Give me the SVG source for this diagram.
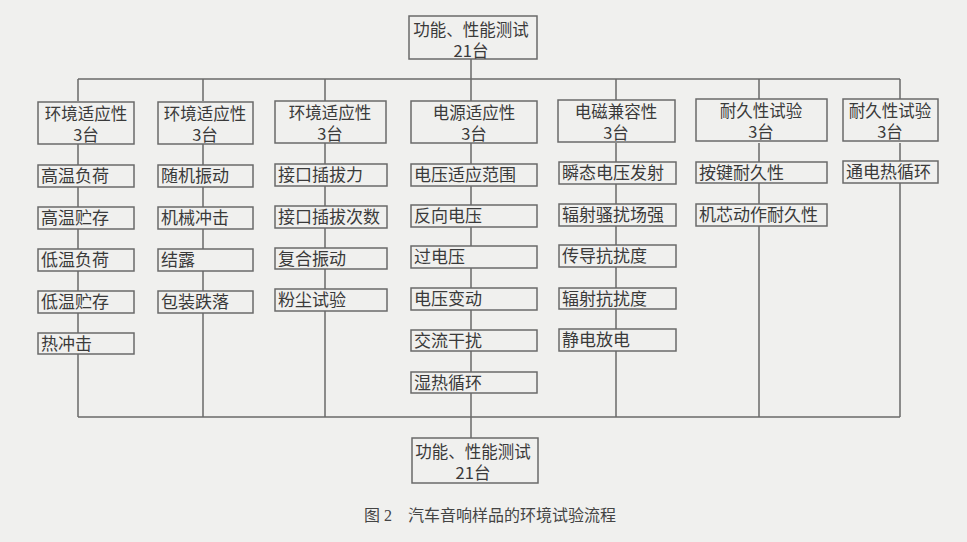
<svg xmlns="http://www.w3.org/2000/svg" width="967" height="542" viewBox="0 0 967 542">
<style>
.bg{fill:#f0f0ee}
.box{fill:#f0f0ee;stroke:#6a6a6a;stroke-width:1.5}
.ln{stroke:#6a6a6a;stroke-width:1.5;fill:none}
text{font-family:"Noto Sans CJK SC","Noto Sans",sans-serif;fill:#3a3a3a;font-size:17px}
.c{text-anchor:middle}
.h{font-size:16.5px}
.t{font-size:16.5px}
.cap{font-family:"Liberation Serif","Noto Sans CJK SC",serif;font-size:16px;fill:#444;white-space:pre}
</style>
<rect class="bg" x="0" y="0" width="967" height="542"/>
<g id="connectors">
<path class="ln" d="M471 59V79M78 79H900M78 79V101M203 79V101M325 79V101M471 79V101M616 79V101M759 79V101M900 79V101"/>
<path class="ln" d="M78 143V417M203 143V417M325 143V417M471 143V438M616 143V417M759 143V417M900 143V417M78 417H900"/>
</g>
<g id="top"><rect class="box" x="409" y="16" width="128" height="43"/><text class="c t" x="471" y="36">功能、性能测试<tspan x="471" dy="20.5">21台</tspan></text></g>
<g id="h1"><rect class="box" x="38" y="102" width="96" height="42"/><text class="c h" x="86" y="120">环境适应性<tspan x="86" dy="21">3台</tspan></text></g>
<g id="h2"><rect class="box" x="158" y="102" width="95" height="42"/><text class="c h" x="205" y="120">环境适应性<tspan x="205" dy="21">3台</tspan></text></g>
<g id="h3"><rect class="box" x="275" y="101" width="111" height="42"/><text class="c h" x="330" y="119">环境适应性<tspan x="330" dy="21">3台</tspan></text></g>
<g id="h4"><rect class="box" x="411" y="101" width="126" height="42"/><text class="c h" x="474" y="119">电源适应性<tspan x="474" dy="21">3台</tspan></text></g>
<g id="h5"><rect class="box" x="558" y="100" width="117" height="42"/><text class="c h" x="616" y="118">电磁兼容性<tspan x="616" dy="21">3台</tspan></text></g>
<g id="h6"><rect class="box" x="696" y="99" width="131" height="42"/><text class="c h" x="761" y="117">耐久性试验<tspan x="761" dy="21">3台</tspan></text></g>
<g id="h7"><rect class="box" x="843" y="99" width="95" height="42"/><text class="c h" x="890" y="117">耐久性试验<tspan x="890" dy="21">3台</tspan></text></g>
<g id="c1">
<rect class="box" x="38" y="165" width="96" height="22"/><text x="41" y="182">高温负荷</text>
<rect class="box" x="38" y="207" width="96" height="22"/><text x="41" y="224">高温贮存</text>
<rect class="box" x="38" y="249" width="96" height="22"/><text x="41" y="266">低温负荷</text>
<rect class="box" x="38" y="291" width="96" height="22"/><text x="41" y="308">低温贮存</text>
<rect class="box" x="38" y="333" width="96" height="21"/><text x="41" y="350">热冲击</text>
</g>
<g id="c2">
<rect class="box" x="158" y="165" width="95" height="22"/><text x="161" y="182">随机振动</text>
<rect class="box" x="158" y="207" width="95" height="22"/><text x="161" y="224">机械冲击</text>
<rect class="box" x="158" y="249" width="95" height="22"/><text x="161" y="266">结露</text>
<rect class="box" x="158" y="291" width="95" height="22"/><text x="161" y="308">包装跌落</text>
</g>
<g id="c3">
<rect class="box" x="275" y="164" width="112" height="22"/><text x="278" y="181">接口插拔力</text>
<rect class="box" x="275" y="206" width="112" height="22"/><text x="278" y="223">接口插拔次数</text>
<rect class="box" x="275" y="248" width="112" height="21"/><text x="278" y="265">复合振动</text>
<rect class="box" x="275" y="289" width="112" height="22"/><text x="278" y="306">粉尘试验</text>
</g>
<g id="c4">
<rect class="box" x="411" y="164" width="126" height="22"/><text x="414" y="181">电压适应范围</text>
<rect class="box" x="411" y="205" width="126" height="22"/><text x="414" y="222">反向电压</text>
<rect class="box" x="411" y="246" width="126" height="22"/><text x="414" y="263">过电压</text>
<rect class="box" x="411" y="288" width="126" height="22"/><text x="414" y="305">电压变动</text>
<rect class="box" x="411" y="330" width="126" height="21"/><text x="414" y="347">交流干扰</text>
<rect class="box" x="411" y="372" width="126" height="21"/><text x="414" y="389">湿热循环</text>
</g>
<g id="c5">
<rect class="box" x="559" y="162" width="117" height="22"/><text x="562" y="179">瞬态电压发射</text>
<rect class="box" x="559" y="204" width="117" height="22"/><text x="562" y="221">辐射骚扰场强</text>
<rect class="box" x="559" y="245" width="117" height="22"/><text x="562" y="262">传导抗扰度</text>
<rect class="box" x="559" y="288" width="117" height="21"/><text x="562" y="305">辐射抗扰度</text>
<rect class="box" x="559" y="329" width="117" height="22"/><text x="562" y="346">静电放电</text>
</g>
<g id="c6">
<rect class="box" x="696" y="162" width="131" height="21"/><text x="699" y="179">按键耐久性</text>
<rect class="box" x="696" y="204" width="131" height="22"/><text x="699" y="221">机芯动作耐久性</text>
</g>
<g id="c7">
<rect class="box" x="843" y="161" width="95" height="22"/><text x="846" y="178">通电热循环</text>
</g>
<g id="bottom"><rect class="box" x="412" y="438" width="126" height="45"/><text class="c t" x="473" y="458">功能、性能测试<tspan x="473" dy="20.5">21台</tspan></text></g>
<text class="cap" x="364" y="521" xml:space="preserve">图 2    汽车音响样品的环境试验流程</text>
</svg>
